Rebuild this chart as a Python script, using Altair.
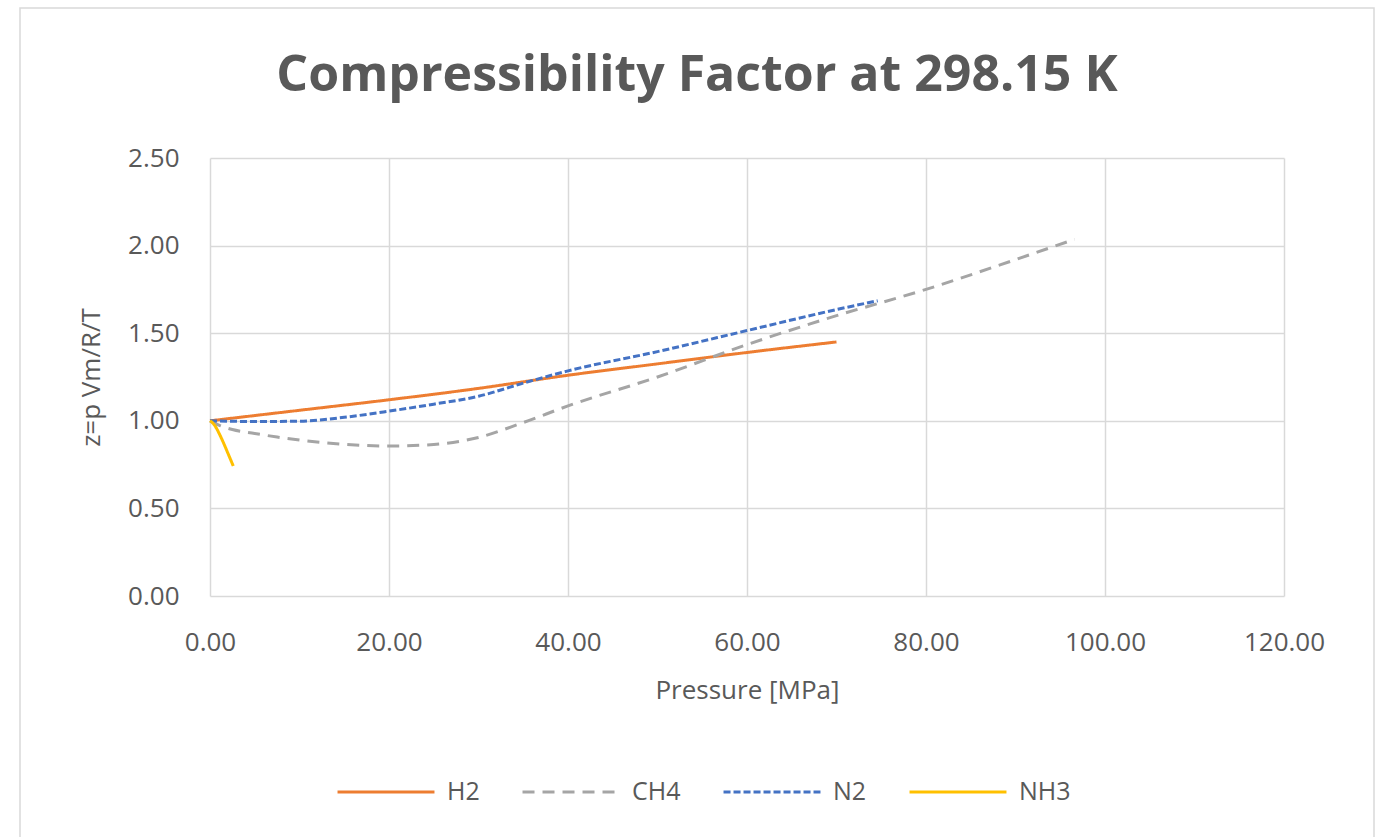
import altair as alt
import pandas as pd

# ---- data ----
series_names = ["H2", "CH4", "N2", "NH3"]
series_colors = ["#ED7D31", "#A5A5A5", "#4472C4", "#FFC000"]

h2_p = [0, 10, 20, 30, 40, 50, 60, 70]
h2_z = [1.00, 1.06, 1.12, 1.185, 1.26, 1.325, 1.39, 1.45]

ch4_p = [0, 1, 2.5, 5, 7.5, 10, 15, 20, 25, 30, 35, 40, 50, 60, 70, 80, 90, 96.6]
ch4_z = [1.00, 0.975, 0.95, 0.928, 0.907, 0.89, 0.866, 0.856, 0.865, 0.905, 0.99,
         1.085, 1.25, 1.435, 1.60, 1.75, 1.92, 2.036]

n2_p = [0, 5, 10, 15, 20, 25, 30, 35, 40, 50, 60, 70, 74.6]
n2_z = [1.00, 0.996, 0.998, 1.02, 1.055, 1.095, 1.14, 1.215, 1.285, 1.395, 1.515,
        1.635, 1.685]

nh3_p = [0, 0.25, 0.5, 0.75, 1.0, 1.5, 2.0, 2.6]
nh3_z = [1.00, 0.99, 0.975, 0.955, 0.93, 0.875, 0.815, 0.742]

x_ticks = [0, 20, 40, 60, 80, 100, 120]
y_ticks = [0, 0.5, 1.0, 1.5, 2.0, 2.5]

rows = []
for name, ps, zs in [("H2", h2_p, h2_z), ("CH4", ch4_p, ch4_z),
                     ("N2", n2_p, n2_z), ("NH3", nh3_p, nh3_z)]:
    for p, z in zip(ps, zs):
        rows.append({"series": name, "p": p, "z": z})
df = pd.DataFrame(rows)

TXT = "#595959"
GRID = "#D9D9D9"
FONT = "Open Sans"

legend = alt.Legend(
    title=None, orient="none", direction="horizontal",
    legendX=126, legendY=584,
    symbolType="stroke", symbolSize=9400, symbolStrokeWidth=3,
    labelFont=FONT, labelFontSize=25, labelColor=TXT, labelOffset=11,
    columnPadding=36,
)

lines = alt.Chart(df).mark_line(strokeWidth=3, interpolate="monotone").encode(
    x=alt.X("p:Q", scale=alt.Scale(domain=[0, 120], nice=False, zero=False),
            axis=alt.Axis(values=x_ticks, format=".2f", title="Pressure [MPa]",
                          titleX=537, titleY=94, titleBaseline="middle",
                          titleAlign="center", labelPadding=46,
                          labelBaseline="middle", labelFlush=False,
                          labelOverlap=False, labelBound=False)),
    y=alt.Y("z:Q", scale=alt.Scale(domain=[0, 2.5], nice=False),
            axis=alt.Axis(values=y_ticks, format=".2f", title="z=p Vm/R/T",
                          titleX=-119, titleY=219, titleAngle=270,
                          titleBaseline="middle", titleAlign="center",
                          labelPadding=31, labelFlush=False,
                          labelOverlap=False)),
    color=alt.Color("series:N",
                    scale=alt.Scale(domain=series_names, range=series_colors),
                    legend=legend),
    strokeDash=alt.StrokeDash("series:N",
                              scale=alt.Scale(domain=series_names,
                                              range=[[1, 0], [12, 8], [7, 3], [1, 0]]),
                              legend=legend),
)

frame = alt.Chart(alt.Data(values=[{"k": 1}])).mark_rect(
    fillOpacity=0, stroke=GRID, strokeWidth=1.5
).encode(
    x=alt.value(-190), x2=alt.value(1164), y=alt.value(-150), y2=alt.value(720)
)

chart = alt.layer(frame, lines).properties(
    width=1074, height=438,
    background="white",
    autosize=alt.AutoSizeParams(type="none"),
    padding={"left": 210, "top": 158, "right": 96, "bottom": 241},
    title=alt.TitleParams(
        "Compressibility Factor at 298.15 K", font=FONT, fontSize=50,
        fontWeight="bold", color=TXT, anchor="middle", frame="group",
        dx=-50, offset=-134, baseline="alphabetic"),
).configure_view(stroke="transparent").configure_axis(
    grid=True, gridColor=GRID, gridWidth=1.5, domain=False, ticks=False,
    tickSize=0, labelFont=FONT, labelFontSize=26, labelColor=TXT,
    titleFont=FONT, titleFontSize=26, titleColor=TXT, titleFontWeight="normal",
)

chart.save("out.html", embed_options={"renderer": "svg", "actions": False})
